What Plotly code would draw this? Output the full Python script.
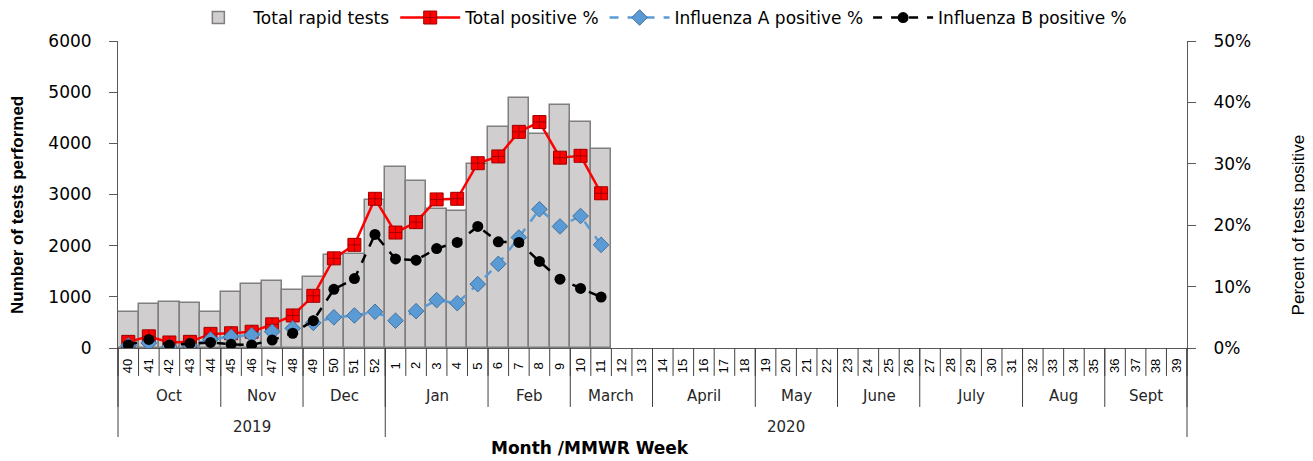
import plotly.graph_objects as go

# ---------------- data ----------------
weeks = [40, 41, 42, 43, 44, 45, 46, 47, 48, 49, 50, 51, 52] + list(range(1, 40))
total_tests = [700, 860, 900, 885, 705, 1095, 1250, 1310, 1135, 1380, 1815, 1830, 2900,
               3540, 3260, 2715, 2675, 3595, 4315, 4895, 4180, 4750, 4410, 3895]
total_pos = [1.0, 1.9, 0.9, 1.0, 2.3, 2.4, 2.65, 3.85, 5.3, 8.5, 14.6, 16.8, 24.3,
             18.8, 20.5, 24.2, 24.3, 30.1, 31.2, 35.2, 36.8, 31.0, 31.3, 25.2]
flu_a_pos = [0.4, 0.8, 0.2, 0.4, 1.4, 1.85, 2.1, 2.65, 3.2, 4.1, 5.0, 5.3, 5.9,
             4.45, 6.0, 7.8, 7.3, 10.4, 13.7, 18.0, 22.6, 19.8, 21.5, 16.8]
flu_b_pos = [0.5, 1.4, 0.5, 0.75, 0.9, 0.6, 0.5, 1.3, 2.4, 4.45, 9.55, 11.3, 18.5,
             14.5, 14.3, 16.2, 17.2, 19.8, 17.3, 17.2, 14.1, 11.2, 9.7, 8.3]
months = ["Oct", "Nov", "Dec", "Jan", "Feb", "March", "April", "May", "June", "July", "Aug", "Sept"]
month_weeks = [5, 4, 4, 5, 4, 4, 5, 4, 4, 5, 4, 4]
years = ["2019", "2020"]
year_weeks = [13, 39]
left_ticks = [0, 1000, 2000, 3000, 4000, 5000, 6000]
right_ticks = [0, 10, 20, 30, 40, 50]
right_labels = [f"{v}%" for v in right_ticks]

n = len(weeks)
xi = list(range(n))
xd = xi[:len(total_tests)]

fig = go.Figure()
fig.add_trace(go.Bar(
    x=xd, y=total_tests, name="Total rapid tests", width=1.0,
    marker=dict(color="#d0cece", line=dict(color="#7f7f7f", width=1.5)),
))
fig.add_trace(go.Scatter(
    x=xd, y=total_pos, name="Total positive %", yaxis="y2", mode="lines+markers",
    line=dict(color="#ff0000", width=2.5),
    marker=dict(symbol="square-cross", size=13, color="#ff0000",
                line=dict(color="#a00000", width=1)),
))
fig.add_trace(go.Scatter(
    x=xd, y=flu_a_pos, name="Influenza A positive %", yaxis="y2", mode="lines+markers",
    line=dict(color="#5b9bd5", width=2.5, dash="dash"),
    marker=dict(symbol="diamond", size=12, color="#5b9bd5",
                line=dict(color="#41719c", width=1)),
))
fig.add_trace(go.Scatter(
    x=xd, y=flu_b_pos, name="Influenza B positive %", yaxis="y2", mode="lines+markers",
    line=dict(color="#000000", width=2.5, dash="dash"),
    marker=dict(symbol="circle", size=11, color="#000000"),
))

axis_col = "#595959"
sep_col = "#404040"
shapes = []
annotations = []

# week row
for b in range(n + 1):
    shapes.append(dict(type="line", xref="paper", yref="paper", x0=b / n, x1=b / n,
                       y0=0, y1=-0.091, line=dict(color=sep_col, width=1)))
for i, w in enumerate(weeks):
    annotations.append(dict(x=i, y=-0.0586, xref="x", yref="paper", text=str(w),
                            showarrow=False, textangle=-90, yanchor="middle",
                            font=dict(family="Liberation Sans", size=13, color="#000")))
# month row
start = 0
bounds = [0]
for m, c in zip(months, month_weeks):
    annotations.append(dict(x=start + (c - 1) / 2, y=-0.156, xref="x", yref="paper", text=m,
                            showarrow=False, yanchor="middle",
                            font=dict(family="DejaVu Sans", size=15, color="#262626")))
    start += c
    bounds.append(start)
for b in bounds:
    shapes.append(dict(type="line", xref="paper", yref="paper", x0=b / n, x1=b / n,
                       y0=0, y1=-0.192, line=dict(color=sep_col, width=1)))
# year row
start = 0
ybounds = [0]
for yname, c in zip(years, year_weeks):
    annotations.append(dict(x=start + (c - 1) / 2, y=-0.256, xref="x", yref="paper", text=yname,
                            showarrow=False, yanchor="middle",
                            font=dict(family="DejaVu Sans", size=15, color="#262626")))
    start += c
    ybounds.append(start)
for b in ybounds:
    shapes.append(dict(type="line", xref="paper", yref="paper", x0=b / n, x1=b / n,
                       y0=0, y1=-0.29, line=dict(color=sep_col, width=1)))

# titles
annotations.append(dict(x=0.4415, y=-0.325, xref="paper", yref="paper", text="<b>Month /MMWR Week</b>",
                        showarrow=False, yanchor="middle",
                        font=dict(family="DejaVu Sans", size=17, color="#000")))
annotations.append(dict(x=-0.0935, y=0.466, xref="paper", yref="paper", text="<b>Number of tests performed</b>",
                        showarrow=False, textangle=-90, xanchor="center", yanchor="middle",
                        font=dict(family="Liberation Sans Narrow, Liberation Sans", size=17, color="#000")))
annotations.append(dict(x=1.104, y=0.40, xref="paper", yref="paper", text="Percent of tests positive",
                        showarrow=False, textangle=-90, xanchor="center", yanchor="middle",
                        font=dict(family="Liberation Sans Narrow, Liberation Sans", size=17, color="#000")))

# page body has an 8px margin: figure is offset by 8px, so size/margins compensate
fig.update_layout(
    width=1305, height=453,
    margin=dict(l=110, r=126, t=33, b=113, autoexpand=False),
    plot_bgcolor="white", paper_bgcolor="white",
    bargap=0,
    showlegend=True,
    legend=dict(orientation="h", x=0.505, xanchor="center", y=1.075, yanchor="middle",
                font=dict(family="DejaVu Sans", size=17, color="#000"),
                traceorder="normal", itemwidth=60, bgcolor="rgba(0,0,0,0)"),
    xaxis=dict(range=[-0.5, n - 0.5], showticklabels=False, ticks="", showgrid=False,
               zeroline=False, showline=True, linecolor=axis_col, linewidth=1),
    yaxis=dict(range=[0, 6000], tickvals=left_ticks, ticks="outside", ticklen=8,
               tickcolor=axis_col, showgrid=False, zeroline=False, showline=True,
               linecolor=axis_col, linewidth=1, ticklabelstandoff=14,
               tickfont=dict(family="DejaVu Sans", size=17, color="#000")),
    yaxis2=dict(range=[0, 50], tickvals=right_ticks, ticktext=right_labels, overlaying="y", side="right",
                ticks="outside", ticklen=8, tickcolor=axis_col, showgrid=False, zeroline=False,
                showline=True, linecolor=axis_col, linewidth=1, ticklabelstandoff=14,
                tickfont=dict(family="DejaVu Sans", size=17, color="#000")),
    shapes=shapes,
    annotations=annotations,
)

fig.write_html("out.html")
